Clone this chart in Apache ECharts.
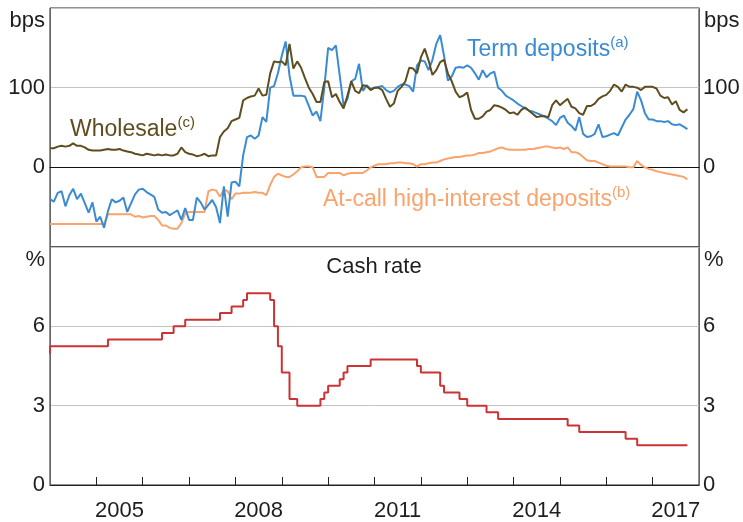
<!DOCTYPE html>
<html>
<head>
<meta charset="utf-8">
<script src="https://cdn.jsdelivr.net/npm/echarts@6/dist/echarts.min.js"></script>
<style>
  html, body { margin: 0; padding: 0; background: #fff; }
  #chart { width: 743px; height: 522px; }
</style>
</head>
<body>
<div id="chart"></div>
<script>
// monthly spreads (bps), Dec 2003 .. Sep 2017
const firstMonth = '2003-12';

const termDeposits = [
  -40, -43, -32, -30, -49, -35, -27, -40, -33, -45,
  -57, -44, -68, -62, -76, -55, -40, -44, -42, -38,
  -56, -45, -34, -28, -27, -31, -34, -37, -53, -57,
  -56, -60, -57, -54, -66, -51, -66, -66, -38, -44,
  -53, -47, -41, -50, -70, -24, -62, -19, -18, -24,
  15, 38, 40, 36, 40, 63, 57, 100, 102, 118,
  140, 158, 115, 90, 90, 90, 89, 77, 65, 70,
  58, 100, 150, 147, 153, 115, 77, 86, 108, 111,
  130, 96, 103, 98, 100, 101, 102, 97, 94, 96,
  101, 104, 104, 102, 95, 128, 134, 133, 122, 135,
  155, 166, 140, 109, 114, 125, 126, 125, 128, 125,
  118, 110, 122, 113, 118, 120, 100, 96, 90, 87,
  84, 80, 77, 74, 71, 70, 68, 66, 64, 61,
  58, 53, 62, 65, 56, 52, 46, 63, 42, 38,
  39, 42, 54, 38, 39, 41, 43, 40, 50, 60,
  66, 73, 95, 84, 68, 60, 60, 58, 58, 57,
  58, 54, 53, 54, 51, 48
];

const wholesale = [
  24, 24, 26, 27, 26, 27, 30, 27, 27, 25,
  22, 21, 21, 21, 22, 23, 22, 22, 23, 21,
  20, 19, 17, 16, 15, 17, 16, 15, 16, 15,
  16, 15, 15, 17, 25, 19, 17, 16, 14, 15,
  17, 14, 15, 15, 38, 45, 49, 58, 60, 62,
  84, 87, 89, 90, 99, 90, 91, 118, 133, 132,
  133, 128, 155, 124, 133, 125, 112, 100, 92, 82,
  82, 107, 108, 88, 92, 82, 74, 90, 108, 96,
  93, 103, 102, 97, 100, 100, 97, 86, 76, 80,
  96, 101, 108, 125, 124, 118, 138, 149, 134, 116,
  122, 132, 135, 118, 108, 95, 88, 90, 94, 72,
  61, 61, 64, 70, 72, 78, 77, 75, 72, 68,
  69, 66, 72, 75, 71, 67, 63, 64, 64, 63,
  78, 84, 78, 82, 86, 76, 74, 68, 66, 77,
  77, 80, 86, 89, 91, 96, 104, 101, 95, 104,
  101, 101, 100, 97, 101, 101, 101, 99, 90, 87,
  88, 79, 83, 72, 69, 73
];

const atCall = [
  -71, -71, -71, -71, -71, -71, -71, -71, -71, -71,
  -71, -71, -71, -71, -71, -59, -59, -59, -59, -59,
  -59, -59, -62, -61, -63, -62, -61, -61, -66, -73,
  -73, -76, -77, -77, -70, -58, -56, -56, -56, -56,
  -56, -30, -28, -29, -37, -28, -30, -40, -33, -33,
  -32, -32, -32, -31, -32, -32, -35, -22, -12, -8,
  -10, -12, -12, -9, -5, 0, 1, 1, 0, -12,
  -12, -12, -7, -7, -7, -7, -10, -8, -7, -7,
  -7, -7, -4, 0, 2, 4, 4, 4, 5, 5,
  6, 6, 5, 5, 4, 1, 4, 4, 5, 6,
  6, 8, 10, 11, 12, 13, 13, 14, 15, 15,
  16, 18, 18, 19, 20, 22, 24, 25, 23, 22,
  22, 22, 22, 22, 23, 23, 24, 25, 26, 26,
  25, 24, 25, 23, 25, 19, 19, 17, 13, 9,
  8, 8, 6, 4, 2, 1, 1, 1, 1, 1,
  0, 0, 8, 3, 0, -2, -3, -5, -6, -7,
  -8, -9, -10, -11, -12, -15
];

// cash rate (%), month each new level took effect
const cashMonths = [
  '2003-11', '2003-12', '2005-03', '2006-05', '2006-08', '2006-11',
  '2007-08', '2007-11', '2008-02', '2008-03', '2008-09', '2008-10',
  '2008-11', '2008-12', '2009-02', '2009-04', '2009-10', '2009-11',
  '2009-12', '2010-03', '2010-04', '2010-05', '2010-11', '2011-11',
  '2011-12', '2012-05', '2012-06', '2012-10', '2012-12', '2013-05',
  '2013-08', '2015-02', '2015-05', '2016-05', '2016-08', '2017-09'
];
const cashRates = [
  5.0, 5.25, 5.5, 5.75, 6.0, 6.25,
  6.5, 6.75, 7.0, 7.25, 7.0, 6.0,
  5.25, 4.25, 3.25, 3.0, 3.25, 3.5,
  3.75, 4.0, 4.25, 4.5, 4.75, 4.5,
  4.25, 3.75, 3.5, 3.25, 3.0, 2.75,
  2.5, 2.25, 2.0, 1.75, 1.5, 1.5
];

const yearTicks = [2005, 2006, 2007, 2008, 2009, 2010, 2011, 2012, 2013, 2014, 2015, 2016, 2017];
const yearLabels = [2005, 2008, 2011, 2014, 2017];

// month-end position in decimal years
function monthPos(m) {
  const p = m.split('-').map(Number);
  return p[0] + p[1] / 12;
}
const start = monthPos(firstMonth);
const pairs = arr => arr.map((v, i) => [start + i / 12, v]);
const cashData = cashMonths.map((m, i) => [monthPos(m), cashRates[i]]);

const FONT = 'Liberation Sans, Arial, sans-serif';
const INK = '#1e1e1e';
const colors = {
  term: '#3a8bd1',
  wholesale: '#5e4d1f',
  atCall: '#f8a46c',
  cash: '#cc3333'
};

const chart = echarts.init(document.getElementById('chart'), null, { renderer: 'canvas' });

function yAx(grid, pos, min, max, interval, shown) {
  return {
    type: 'value', gridIndex: grid, position: pos,
    min: min, max: max, interval: interval,
    axisLine: { show: true, lineStyle: { color: '#666', width: 1 } },
    axisTick: { show: false },
    axisLabel: {
      margin: pos === 'left' ? 5 : 4,
      color: INK, fontSize: 22, fontFamily: FONT,
      formatter: v => (shown.indexOf(v) >= 0 ? String(v) : '')
    },
    splitLine: { show: pos === 'left', lineStyle: { color: '#c4c4c4', width: 1 } }
  };
}

function rich(label, sup, color) {
  return {
    text: '{m|' + label + '}{s|' + sup + '}',
    fill: color,
    rich: {
      m: { fontSize: 23, fontFamily: FONT, color: color, lineHeight: 26, verticalAlign: 'bottom' },
      s: { fontSize: 15, fontFamily: FONT, color: color, lineHeight: 16, verticalAlign: 'top' }
    }
  };
}

const option = {
  animation: false,
  grid: [
    { left: 50, right: 44, top: 8, height: 239, show: true, borderColor: '#222', borderWidth: 1 },
    { left: 50, right: 44, top: 247, height: 239, show: true, borderColor: '#222', borderWidth: 1 }
  ],
  xAxis: [
    {
      type: 'value', gridIndex: 0, min: 2004, max: 2018,
      axisLine: { show: true, onZero: true, lineStyle: { color: '#111', width: 1 } },
      axisTick: { show: false }, axisLabel: { show: false }, splitLine: { show: false }
    },
    {
      type: 'value', gridIndex: 1, min: 2004, max: 2018,
      axisLine: { show: true, onZero: false, lineStyle: { color: '#222', width: 1 } },
      axisTick: { show: true, inside: true, length: 8, customValues: yearTicks, lineStyle: { color: '#222' } },
      axisLabel: {
        customValues: yearLabels.map(y => y + 0.5),
        formatter: v => String(Math.floor(v)),
        margin: 15, color: INK, fontSize: 22, fontFamily: FONT
      },
      splitLine: { show: false }
    }
  ],
  yAxis: [
    yAx(0, 'left', -100, 200, 100, [0, 100]),
    yAx(0, 'right', -100, 200, 100, [0, 100]),
    yAx(1, 'left', 0, 9, 3, [0, 3, 6]),
    yAx(1, 'right', 0, 9, 3, [0, 3, 6])
  ],
  series: [
    { name: 'At-call high-interest deposits', type: 'line', xAxisIndex: 0, yAxisIndex: 0,
      data: pairs(atCall), showSymbol: false, lineStyle: { color: colors.atCall, width: 2 } },
    { name: 'Term deposits', type: 'line', xAxisIndex: 0, yAxisIndex: 0,
      data: pairs(termDeposits), showSymbol: false, lineStyle: { color: colors.term, width: 2 } },
    { name: 'Wholesale', type: 'line', xAxisIndex: 0, yAxisIndex: 0,
      data: pairs(wholesale), showSymbol: false, lineStyle: { color: colors.wholesale, width: 2 } },
    { name: 'Cash rate', type: 'line', xAxisIndex: 1, yAxisIndex: 2, step: 'end',
      data: cashData, showSymbol: false, lineStyle: { color: colors.cash, width: 2 } }
  ],
  graphic: [
    { type: 'text', x: 45, y: 10, style: { text: 'bps', fill: INK, font: '22px ' + FONT, align: 'right', textAlign: 'right', verticalAlign: 'top', textVerticalAlign: 'top' } },
    { type: 'text', x: 704, y: 10, style: { text: 'bps', fill: INK, font: '22px ' + FONT, align: 'left', textAlign: 'left', verticalAlign: 'top', textVerticalAlign: 'top' } },
    { type: 'text', x: 45, y: 249, style: { text: '%', fill: INK, font: '22px ' + FONT, align: 'right', textAlign: 'right', verticalAlign: 'top', textVerticalAlign: 'top' } },
    { type: 'text', x: 704, y: 249, style: { text: '%', fill: INK, font: '22px ' + FONT, align: 'left', textAlign: 'left', verticalAlign: 'top', textVerticalAlign: 'top' } },
    { type: 'text', x: 374, y: 256, style: { text: 'Cash rate', fill: INK, font: '22px ' + FONT, align: 'center', textAlign: 'center', verticalAlign: 'top', textVerticalAlign: 'top' } },
    { type: 'text', x: 467, y: 35, style: rich('Term deposits', '(a)', colors.term) },
    { type: 'text', x: 70, y: 115, style: rich('Wholesale', '(c)', colors.wholesale) },
    { type: 'text', x: 323, y: 185, style: rich('At-call high-interest deposits', '(b)', colors.atCall) }
  ]
};

chart.setOption(option);
</script>
</body>
</html>
